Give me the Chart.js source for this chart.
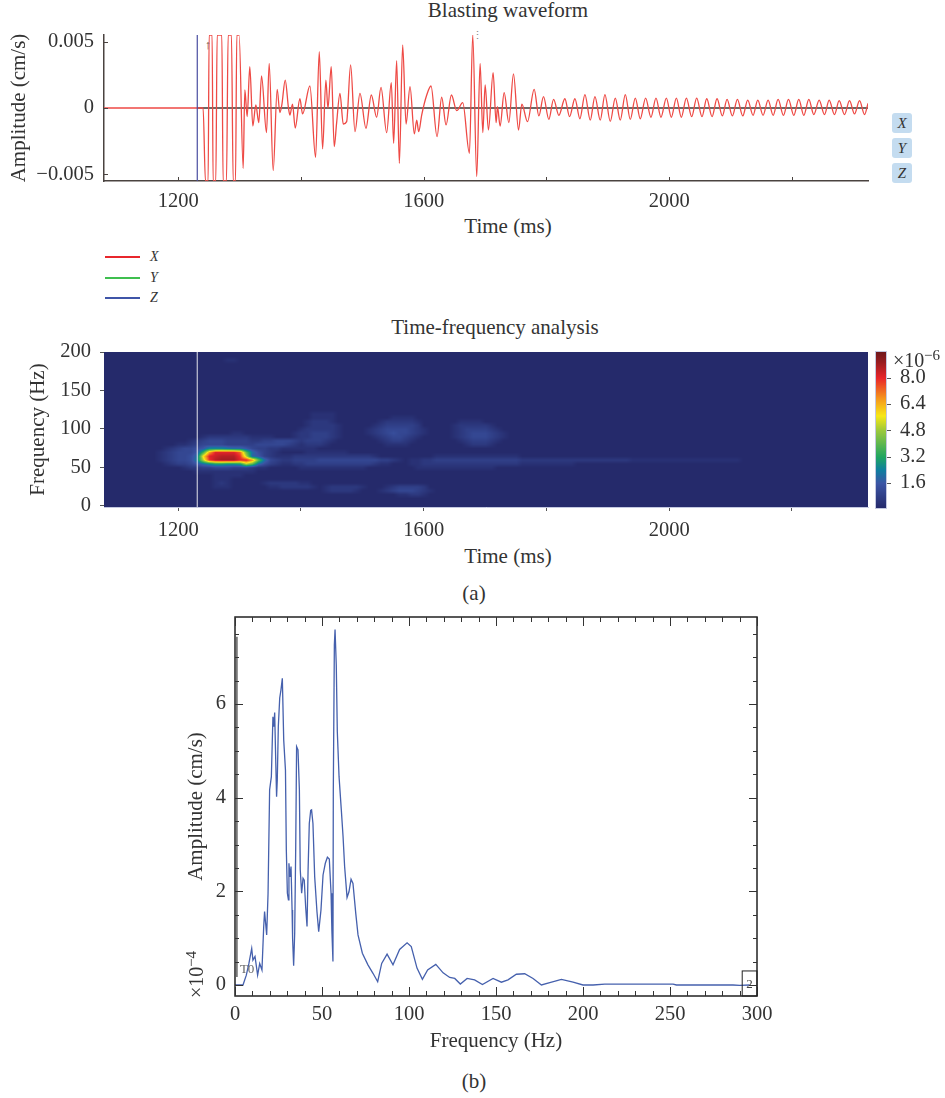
<!DOCTYPE html>
<html>
<head>
<meta charset="utf-8">
<title>Blasting waveform</title>
<script src="https://cdn.jsdelivr.net/npm/chart.js@4/dist/chart.umd.min.js"></script>
<style>
body { margin: 0; background: #fff; width: 945px; height: 1098px; position: relative; overflow: hidden;
       font-family: "Liberation Serif", serif; color: #333; }
canvas { position: absolute; left: 0; }
.lbl { position: absolute; font-size: 21px; line-height: 24px; transform: translateX(-50%); white-space: nowrap; }
.key { position: absolute; left: 105px; width: 35px; height: 2px; }
.keyText { position: absolute; left: 150px; font-size: 14px; line-height: 16px; font-style: italic; }
.btn { position: absolute; left: 892px; width: 20px; height: 20px; line-height: 20px; background: #c4dcf0;
       border-radius: 3px; text-align: center; font-size: 15px; font-style: italic; }
</style>
</head>
<body>
<div class="lbl" style="left:508px;top:-2px">Blasting waveform</div>
<div class="lbl" style="left:508px;top:214px">Time (ms)</div>
<div class="lbl" style="left:495px;top:315px">Time-frequency analysis</div>
<div class="lbl" style="left:508px;top:544px">Time (ms)</div>
<div class="lbl" style="left:474px;top:581px">(a)</div>
<div class="lbl" style="left:474px;top:1069px">(b)</div>
<div class="key" style="top:256px;background:#e8262c"></div><div class="keyText" style="top:249px">X</div>
<div class="key" style="top:277px;background:#3fbf4f"></div><div class="keyText" style="top:270px">Y</div>
<div class="key" style="top:297px;background:#3f55a8"></div><div class="keyText" style="top:290px">Z</div>
<div class="btn" style="top:113px">X</div>
<div class="btn" style="top:138px">Y</div>
<div class="btn" style="top:163px">Z</div>
<div class="lbl" style="left:208px;top:33px;font-size:13px">↑</div>
<div class="lbl" style="left:477px;top:23px;font-size:11px;color:#888">⋮</div>

<canvas id="waveChart" width="945" height="226" style="top:0"></canvas>
<canvas id="heatChart" width="945" height="217" style="top:340px"></canvas>
<canvas id="specChart" width="945" height="456" style="top:600px"></canvas>

<script>
const serif = "'Liberation Serif', serif";
const ink = "#333";

// Blasting waveform, channel X (extremes)
const waveTime = [1079,1240.5,1244.3,1248.7,1250.3,1255.2,1256.8,1261.2,1263.4,1271,1273.1,1278.6,1281.3,1286.7,1289.5,1293.3,1295.4,1299.2,
  1305.8,1308.5,1312.3,1316.6,1321.5,1326.4,1331.3,1335.7,1343.8,1348.2,1354.7,1361.2,1365.6,1368.8,1374.3,1379.7,1381.9,1386.2,1390.6,1398.2,1402.6,
  1414.5,1423.8,1429.8,1435.2,1440.6,1443.9,1449.3,1454.2,1458,1463.5,1468.9,1474.4,1480.9,1488,1496.1,1505.9,1514.6,1523.3,1530.4,1539.6,1547.2,
  1551,1555.9,1560.3,1565.7,1571.2,1577.7,1584.7,1588.6,1591.8,1596.7,1604.9,1611.9,1621.7,1629.3,1636.4,1645.1,1653.8,1663.6,1674.5,1679.9,1686.4,
  1691.9,1696.3,1700.1,1705.5,1713.1,1718,1720.2,1724.5,1731.1,1738.7,1746.3,1754.5,1759.9,1769.1,1780,1787.6,1795.2,1803.9,1811.6,1820.3,1830,1837.7,
  1846.4,1854.5,1862.7,1871.4,1879,1887.7,1895.3,1904,1912.2,1920.3,1928.5,1936.6,1944.8,1952.9,1961.6,1970.3,1978.5,1986.6,1995.4,2003.5,2011.7,2019.8,
  2028,2036.7,2044.8,2053.5,2061.2,2069.9,2078,2086.7,2094.3,2103,2111.2,2119.9,2128,2136.7,2144.4,2153,2161.2,2169.4,2177.5,2186.2,2194.4,2203.1,2211.2,
  2219.4,2227.6,2235.7,2244.4,2253.1,2260.7,2269.4,2277,2285.7,2293.9,2302,2310.2,2318.4,2324];
const waveAmp = [0,0,-0.0055,-0.0055,0.0055,0.0055,-0.0055,-0.0055,0.0055,0.0055,-0.0055,-0.0055,0.0055,0.0055,-0.0055,-0.0055,0.0055,0.0055,
  -0.00455,0.00136,-0.00065,0.00312,-0.00136,0.00023,-0.00111,0.00242,-0.00186,0.00337,-0.00473,0.00141,-0.00035,0.00023,0.00211,-0.00003,-0.00053,0.0003,-0.00151,0.0007,-0.00045,
  0.00166,-0.00372,0.00425,-0.00309,0.00211,-0.00003,0.00312,-0.00292,-0.00116,0.00111,-0.00121,-0.00103,0.00325,-0.00179,0.00111,-0.00153,0.00098,-0.0007,0.00156,-0.00186,0.00191,
  -0.00267,0.00357,-0.00418,0.00476,-0.00121,0.00161,-0.00196,-0.00091,-0.00179,-0.00053,0.00098,0.00166,-0.00216,0.00081,-0.00128,0.00098,-0.0002,0.0004,-0.00342,0.00551,-0.00518,
  0.00337,-0.00186,0.00174,-0.00166,0.00267,-0.00111,0.0001,-0.00136,0.00116,-0.00111,0.00257,-0.00166,0.0003,-0.00103,0.00141,-0.0006,0.00086,-0.00086,0.00065,-0.00055,0.0007,-0.00065,
  0.0007,-0.00081,0.00101,-0.00091,0.00086,-0.00091,0.00101,-0.00101,0.00075,-0.00091,0.00101,-0.00086,0.00075,-0.00081,0.00075,-0.0007,0.00075,-0.0007,0.00075,-0.0007,0.00075,-0.0007,
  0.00075,-0.00065,0.00075,-0.00065,0.0007,-0.00065,0.0007,-0.0006,0.00065,-0.0006,0.00065,-0.0006,0.0006,-0.00055,0.0006,-0.00055,0.0006,-0.00055,0.00065,-0.00055,0.00065,-0.00055,0.00065,
  -0.00055,0.00065,-0.0005,0.0006,-0.0005,0.0006,-0.0005,0.00055,-0.0005,0.00055,-0.00045,0.00055,-0.0005,0.00035];
const triggerTime = 1231;
const waveXTicks = [1200,1400,1600,1800,2000,2200];
const waveXLabels = [1200,1600,2000];
const ampTicks = [-0.005,0,0.005];

// Time-frequency cells: one string per frequency row, one base-36 digit per 10 ms from 1140 ms,
// digit x 0.25e-6 gives the level, spaces are for reading only, missing cells are level 0
const heatStartTime = 1140;
const heatTimeStep = 10;
const heatTopFreq = 195;
const heatFreqStep = 5;
const heatLevelUnit = 0.25;
const heatRows = [
  "", "0000000000 0000110000", "", "", "", "", "", "", "", "", "", "", "", "", "",
  "0000000000 0000000000 0000000011 11",
  "0000000000 0000000000 0000000011 1100000000 0111100000",
  "0000000000 0000000000 0000000122 2100000001 2222210000 0011110000",
  "0000000000 0000000000 0000000122 2210000012 3333320000 0122222100",
  "0000000000 0000000000 0000001222 2210000123 4444321000 0123333210",
  "0000000000 0000011000 0000012233 3210000123 4544321000 0123444321",
  "0000000000 1222222211 1100012233 3210000012 3443210000 0123444321",
  "0000000012 3444333322 3344432333 2100000001 2332100000 0012333210",
  "0000001123 4444333334 4444321222 1000000000 1111000000 0001222100",
  "0000123445 6aaa988643 3221111110",
  "0001234446 eqwwwwtg85 3210000111 1111000000",
  "0001234458 nwxyyyvk76 3211122222 2222222210 0000000011 1111111111 1100",
  "0001234459 kvyzzzwwrg 8432233334 4444444443 3210112233 3333333333 3322222222 2222222222 1111111111 11111111",
  "0000123346 8accbbckg8 5321122333 3333333321 1000112222 2222222222 2211111111 1",
  "0000000122 3344433321 1000001111 1111111000 0000011111 1111111100",
  "0000000001 1111111110",
  "0000000000 0011111000",
  "0000000000 0011100000",
  "0000000000 0012100000 1222221100",
  "0000000000 0011100000 0112222210 1222221000 1233332000",
  "0000000000 0000000000 0000000000 1222210001 2344432100",
  "0000000000 0000000000 0000000000 0000000000 0011221000"
];
const heatXTicks = [1200,1400,1600,1800,2000,2200];
const heatXLabels = [1200,1600,2000];
const freqTicks = [0,50,100,150,200];
const barTicks = [1.6,3.2,4.8,6.4,8.0];

// colour bar stops, [value x 1e-6, r, g, b]
const colorStops = [[0.1,37,42,107],[1.6,59,85,165],[2.4,15,126,160],[3.2,31,165,97],[4.8,155,200,60],
  [5.7,247,232,22],[6.8,245,147,30],[8.0,232,37,42],[9.0,150,28,32],[9.6,110,24,28]];

// Amplitude spectrum
const specFreq = [0,4.6,6.5,8,9.6,10.3,11.5,13,14.2,15.5,16.5,17,17.6,18.2,19,19.9,20.9,21.8,22.4,22.8,23.4,23.9,24.3,24.9,25.7,26.4,27.2,28,29,29.5,
  30.1,30.7,31,31.6,32.2,32.8,33.1,33.7,34.3,34.9,35.4,36.2,37,37.5,38.3,39.1,39.8,40.6,41.4,42,42.7,43.5,44,44.8,45.8,47.1,48.1,49.4,50.6,51.9,53.1,54.2,
  55.2,55.7,56.3,56.5,57.1,57.5,58.2,58.8,59.8,61.1,62.1,63,64.4,65.5,66.7,67.8,69.4,70.7,73.2,76.4,79.3,82,84.3,87.4,90.8,94.6,98.9,101.3,104.6,107.7,
  110.7,115.4,119.6,123.4,126.3,129.5,133.4,137.7,142.2,148.3,153.1,156.9,161.7,166.5,171.3,176.1,180.9,187.6,194.3,200,205.8,212.5,228.8,251.8,253.7,286.2,290,295.8];
const specAmp = [0,0,0.21,0.46,0.78,0.53,0.61,0.21,0.46,0.32,1.25,1.57,1.32,1.07,1.96,4.17,4.45,5.73,5.52,5.82,4.81,4.02,4.38,5.52,6.13,6.3,6.55,5.23,4.59,2.88,
  1.96,1.82,2.6,2.31,2.53,1.6,1,0.41,1.1,2.96,5.09,5.02,4.17,2.46,1.96,2.28,2.24,1.67,1.25,2.46,3.45,3.73,3.74,3.45,2.31,1.57,1.14,1.6,2.35,2.6,2.73,2.69,
  1.96,1.14,0.5,4.17,7.26,7.59,6.84,5.41,4.45,3.74,3.17,2.53,1.87,1.99,2.26,2.17,1.53,1.07,0.68,0.43,0.25,0.07,0.46,0.66,0.43,0.76,0.9,0.82,0.36,0.12,
  0.32,0.44,0.26,0.16,0.14,0.02,0.14,0.11,0.01,0.14,0.06,0.11,0.23,0.24,0.14,0,0.05,0.12,0.06,0,0,0.02,0.02,0.02,0,0,-0.01,0];
const specFreqMajor = [0,50,100,150,200,250,300];
const specFreqMinor = [10,20,30,40,60,70,80,90,110,120,130,140,160,170,180,190,210,220,230,240,260,270,280,290];
const specAmpMajor = [0,2,4,6];
const specAmpMinor = [0.5,1,1.5,2.5,3,3.5,4.5,5,5.5,6.5,7,7.5];
const t0Freq = 1.1;
const t0Top = 7.44;
const t0Bottom = 0.17;
const endBoxFreq = [291.5,300];
const endBoxAmp = [-0.235,0.3];

function toPoints(xs, ys) {
    return xs.map((x, i) => ({x: x, y: ys[i]}));
}

function fixedTicks(values) {
    return function (scale) {
        scale.ticks = values.map(v => ({value: v}));
    };
}

function fixWidth(w) {
    return function (scale) {
        scale.width = w;
        scale.paddingTop = 0;
        scale.paddingBottom = 0;
    };
}

function fixHeight(h) {
    return function (scale) { scale.height = h; };
}

function heatColor(v) {
    for (let i = 1; i < colorStops.length; i++) {
        if (v <= colorStops[i][0]) {
            let a = colorStops[i - 1], b = colorStops[i];
            let t = Math.max(0, (v - a[0]) / (b[0] - a[0]));
            return [a[1] + (b[1] - a[1]) * t, a[2] + (b[2] - a[2]) * t, a[3] + (b[3] - a[3]) * t];
        }
    }
    let last = colorStops[colorStops.length - 1];
    return [last[1], last[2], last[3]];
}

let heatCells = heatRows.map(r => r.replace(/ /g, "").split("").map(c => parseInt(c, 36) * heatLevelUnit));

function cellValue(row, col) {
    if (row < 0 || row >= heatCells.length || col < 0) return 0;
    let v = heatCells[row][col];
    return v === undefined ? 0 : v;
}

// heat map and colour bar, painted through the chart's scales
const heatPlugin = {
    id: "heatPlugin",
    beforeDatasetsDraw(chart) {
        let ctx = chart.ctx, area = chart.chartArea;
        let sx = chart.scales.x, sy = chart.scales.y, sb = chart.scales.bar;
        let w = Math.round(area.right - area.left), h = Math.round(area.bottom - area.top);
        let img = ctx.createImageData(w, h);
        for (let py = 0; py < h; py++) {
            let rowPos = (heatTopFreq - sy.getValueForPixel(area.top + py)) / heatFreqStep;
            let r0 = Math.floor(rowPos), fr = rowPos - r0;
            for (let px = 0; px < w; px++) {
                let colPos = (sx.getValueForPixel(area.left + px) - heatStartTime) / heatTimeStep;
                let c0 = Math.floor(colPos), fc = colPos - c0;
                let v = (cellValue(r0, c0) * (1 - fc) + cellValue(r0, c0 + 1) * fc) * (1 - fr)
                      + (cellValue(r0 + 1, c0) * (1 - fc) + cellValue(r0 + 1, c0 + 1) * fc) * fr;
                let rgb = heatColor(v + 0.1);
                let k = (py * w + px) * 4;
                img.data[k] = rgb[0]; img.data[k + 1] = rgb[1]; img.data[k + 2] = rgb[2]; img.data[k + 3] = 255;
            }
        }
        ctx.putImageData(img, Math.round(area.left), Math.round(area.top));

        // colour bar
        for (let y = Math.round(area.top); y < area.bottom + 1; y++) {
            let rgb = heatColor(sb.getValueForPixel(y));
            ctx.fillStyle = "rgb(" + rgb.map(Math.round).join(",") + ")";
            ctx.fillRect(876, y, 10, 1);
        }
        ctx.strokeStyle = "#c3c8e0";
        ctx.lineWidth = 1;
        ctx.strokeRect(875.5, area.top - 0.5, 11, area.bottom - area.top + 2);
        ctx.strokeStyle = "#555";
        barTicks.forEach(v => {
            let y = Math.round(sb.getPixelForValue(v)) + 0.5;
            ctx.beginPath(); ctx.moveTo(887, y); ctx.lineTo(891, y); ctx.stroke();
        });
        // exponent of the colour bar
        ctx.fillStyle = ink;
        ctx.textBaseline = "alphabetic";
        ctx.textAlign = "left";
        ctx.font = "20px " + serif;
        ctx.fillText("×10", 893, 27);
        ctx.font = "15px " + serif;
        ctx.fillText("−6", 924, 20);
    }
};

// inward tick marks and frame
function drawTickSet(chart, scale, values, len, bothSides) {
    let ctx = chart.ctx, area = chart.chartArea;
    values.forEach(v => {
        ctx.beginPath();
        if (scale.isHorizontal()) {
            let x = Math.round(scale.getPixelForValue(v)) + 0.5;
            ctx.moveTo(x, area.bottom); ctx.lineTo(x, area.bottom - len);
            if (bothSides) { ctx.moveTo(x, area.top); ctx.lineTo(x, area.top + len); }
        } else {
            let y = Math.round(scale.getPixelForValue(v)) + 0.5;
            ctx.moveTo(area.left, y); ctx.lineTo(area.left + len, y);
            if (bothSides) { ctx.moveTo(area.right, y); ctx.lineTo(area.right - len, y); }
        }
        ctx.stroke();
    });
}

const waveTicksPlugin = {
    id: "waveTicksPlugin",
    afterDraw(chart) {
        let ctx = chart.ctx;
        ctx.strokeStyle = "#4a4340";
        ctx.lineWidth = 1;
        drawTickSet(chart, chart.scales.x, waveXTicks, 4, false);
        drawTickSet(chart, chart.scales.y, ampTicks, 4, false);
    }
};

const specPlugin = {
    id: "specPlugin",
    afterDraw(chart) {
        let ctx = chart.ctx, area = chart.chartArea;
        let sx = chart.scales.x, sy = chart.scales.y;
        ctx.strokeStyle = "#222";
        ctx.lineWidth = 1.5;
        ctx.strokeRect(area.left, area.top, area.right - area.left, area.bottom - area.top);
        ctx.lineWidth = 1;
        ctx.strokeStyle = "#333";
        drawTickSet(chart, sx, specFreqMajor, 9, true);
        drawTickSet(chart, sx, specFreqMinor, 5, true);
        drawTickSet(chart, sy, specAmpMajor, 8, true);
        drawTickSet(chart, sy, specAmpMinor, 4, true);

        // box at the end of the record and its number
        let bx = sx.getPixelForValue(endBoxFreq[0]), by = sy.getPixelForValue(endBoxAmp[1]);
        ctx.strokeStyle = "#222";
        ctx.strokeRect(bx, by, area.right - bx, area.bottom - by);
        ctx.fillStyle = "#444";
        ctx.font = "13px " + serif;
        ctx.textAlign = "center";
        ctx.textBaseline = "middle";
        ctx.fillText("2", sx.getPixelForValue(295.7), sy.getPixelForValue(0));
        ctx.fillStyle = "#666";
        ctx.textAlign = "left";
        ctx.fillText("T0", sx.getPixelForValue(t0Freq) + 3, sy.getPixelForValue(0.32));

        // exponent of the amplitude axis, turned like the axis title
        ctx.save();
        ctx.translate(203, 398);
        ctx.rotate(-Math.PI / 2);
        ctx.fillStyle = ink;
        ctx.textAlign = "left";
        ctx.textBaseline = "alphabetic";
        ctx.font = "20px " + serif;
        ctx.fillText("×10", 0, 0);
        ctx.font = "15px " + serif;
        ctx.fillText("−4", 31, -7);
        ctx.restore();
    }
};

function tickFont() {
    return {family: serif, size: 20.5};
}

function titleFont() {
    return {family: serif, size: 21};
}

function setupWaveChart() {
    new Chart(document.getElementById("waveChart"), {
        type: "line",
        data: {
            datasets: [
                {data: toPoints(waveTime, waveAmp), borderColor: "#ee4a45", borderWidth: 1.3,
                 pointRadius: 0, cubicInterpolationMode: "monotone", order: 1},
                {data: toPoints([triggerTime, 2324], [0, 0]), borderColor: "#3b3735", borderWidth: 1.4, pointRadius: 0, order: 2},
                {data: toPoints([triggerTime, triggerTime], [-0.0056, 0.0056]), borderColor: "#4a4ea0", borderWidth: 1.2, pointRadius: 0, order: 0}
            ]
        },
        options: {
            responsive: false, animation: false, devicePixelRatio: 1,
            layout: {padding: {top: 35, right: 77}},
            plugins: {legend: {display: false}, tooltip: {enabled: false}},
            scales: {
                x: {
                    type: "linear", min: 1079, max: 2324,
                    afterBuildTicks: fixedTicks(waveXTicks), afterFit: fixHeight(45),
                    grid: {display: false, drawTicks: false}, border: {color: "#4a4340", width: 1.5},
                    ticks: {font: tickFont(), color: ink, padding: 8, autoSkip: false, maxRotation: 0,
                            callback: v => waveXLabels.includes(v) ? String(v) : ""}
                },
                y: {
                    min: -0.00551, max: 0.00551,
                    afterBuildTicks: fixedTicks(ampTicks), afterFit: fixWidth(104),
                    grid: {display: false, drawTicks: false}, border: {color: "#4a4340", width: 1.5},
                    title: {display: true, text: "Amplitude (cm/s)", font: titleFont(), color: ink, padding: {top: 7, bottom: 0}},
                    ticks: {font: tickFont(), color: ink, padding: 10,
                            callback: v => v === 0 ? "0" : (v < 0 ? "−" : "") + Math.abs(v).toFixed(3)}
                }
            }
        },
        plugins: [waveTicksPlugin]
    });
}

function setupHeatChart() {
    new Chart(document.getElementById("heatChart"), {
        type: "line",
        data: {
            datasets: [
                {data: toPoints([triggerTime, triggerTime], [-2, 200]), borderColor: "rgba(235,235,240,0.8)", borderWidth: 1.2, pointRadius: 0}
            ]
        },
        options: {
            responsive: false, animation: false, devicePixelRatio: 1,
            layout: {padding: {top: 12}},
            plugins: {legend: {display: false}, tooltip: {enabled: false}},
            scales: {
                x: {
                    type: "linear", min: 1079, max: 2324,
                    afterBuildTicks: fixedTicks(heatXTicks), afterFit: fixHeight(50),
                    grid: {drawOnChartArea: false, tickLength: 4, tickColor: "#555"}, border: {color: "#c3c8e0"},
                    ticks: {font: tickFont(), color: ink, padding: 7, autoSkip: false, maxRotation: 0,
                            callback: v => heatXLabels.includes(v) ? String(v) : ""}
                },
                y: {
                    min: -1.7, max: 200,
                    afterBuildTicks: fixedTicks(freqTicks), afterFit: fixWidth(104),
                    grid: {drawOnChartArea: false, tickLength: 4, tickColor: "#555"}, border: {color: "#c3c8e0"},
                    title: {display: true, text: "Frequency (Hz)", font: titleFont(), color: ink, padding: {top: 26, bottom: 0}},
                    ticks: {font: tickFont(), color: ink, padding: 9}
                },
                bar: {
                    position: "right", min: 0.13, max: 9.56,
                    afterBuildTicks: fixedTicks(barTicks), afterFit: fixWidth(77),
                    grid: {display: false, drawTicks: false}, border: {display: false},
                    ticks: {font: tickFont(), color: ink, padding: 32, callback: v => v.toFixed(1)}
                }
            }
        },
        plugins: [heatPlugin]
    });
}

function setupSpecChart() {
    new Chart(document.getElementById("specChart"), {
        type: "line",
        data: {
            datasets: [
                {data: toPoints(specFreq, specAmp), borderColor: "#4560ad", borderWidth: 1.3, pointRadius: 0, tension: 0},
                {data: toPoints([t0Freq, t0Freq], [t0Bottom, t0Top]), borderColor: "#555", borderWidth: 1.4, pointRadius: 0}
            ]
        },
        options: {
            responsive: false, animation: false, devicePixelRatio: 1,
            layout: {padding: {top: 17, right: 188}},
            plugins: {legend: {display: false}, tooltip: {enabled: false}},
            scales: {
                x: {
                    type: "linear", min: 0, max: 300,
                    afterBuildTicks: fixedTicks(specFreqMajor), afterFit: fixHeight(60),
                    grid: {display: false, drawTicks: false}, border: {display: false},
                    title: {display: true, text: "Frequency (Hz)", font: titleFont(), color: ink, padding: {top: 4, bottom: 2}},
                    ticks: {font: tickFont(), color: ink, padding: 6, autoSkip: false, maxRotation: 0}
                },
                y: {
                    min: -0.235, max: 7.86,
                    afterBuildTicks: fixedTicks(specAmpMajor), afterFit: fixWidth(235),
                    grid: {display: false, drawTicks: false}, border: {display: false},
                    title: {display: true, text: "Amplitude (cm/s)", font: titleFont(), color: ink, padding: {top: 184, bottom: 0}},
                    ticks: {font: tickFont(), color: ink, padding: 9}
                }
            }
        },
        plugins: [specPlugin]
    });
}

setupWaveChart();
setupHeatChart();
setupSpecChart();
</script>
</body>
</html>
